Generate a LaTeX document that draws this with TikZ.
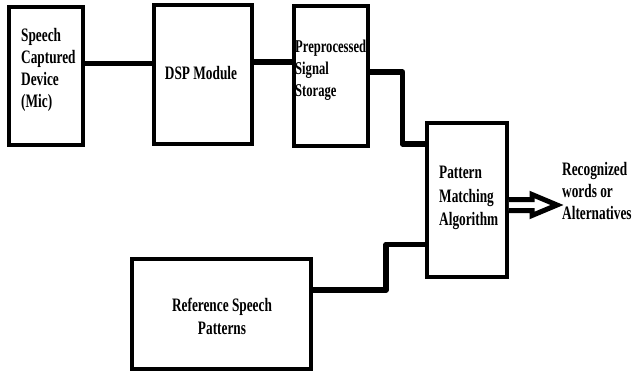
\documentclass[tikz,border=0pt]{standalone}
\usepackage{fontspec}
\setmainfont{Liberation Serif}[FakeStretch=0.7]
\usetikzlibrary{calc}
\begin{document}
\begin{tikzpicture}[x=1pt,y=-1pt,
  block/.style={draw=black,line width=3.5pt,rectangle,inner sep=0pt},
  label/.style={inner sep=0pt,font=\bfseries\fontsize{19}{22}\selectfont},
  conn/.style={draw=black,line width=5.5pt,line join=round}]
\useasboundingbox (0,0) rectangle (633,373);

% blocks
\node[block,minimum width=74pt,minimum height=138pt] (spc) at (46,76) {};
\node[block,minimum width=98pt,minimum height=139pt] (dsp) at (203,74.5) {};
\node[block,minimum width=74pt,minimum height=140pt] (pre) at (331,76) {};
\node[block,minimum width=80pt,minimum height=154pt] (pm) at (467,200) {};
\node[block,minimum width=179pt,minimum height=110pt] (ref) at (221.5,314) {};

% block texts
\node[label,align=left,anchor=west] (spct) at (21,70) {Speech\\Captured\\Device\\(Mic)};
\node[label,anchor=center] (dspt) at (201,73) {DSP Module};
\node[label,align=left,anchor=west,font=\bfseries\fontsize{18}{22}\selectfont] (pret) at (295,70) {Preprocessed\\Signal\\Storage};
\node[label,align=left,anchor=west,font=\bfseries\fontsize{19}{23.5}\selectfont] (pmt) at (439,198) {Pattern\\Matching\\Algorithm};
\node[label,align=center,anchor=center,font=\bfseries\fontsize{19}{23}\selectfont] (reft) at (222,316) {Reference Speech\\Patterns};
\node[label,align=left,anchor=west] (out) at (562,191) {Recognized\\words or\\Alternatives};

% bends of the connectors
\coordinate (k1) at (402.5,72);
\coordinate (k2) at (402.5,144);
\coordinate (k3) at (386,290);
\coordinate (k4) at (386,244.5);

% connectors
\draw[conn] (spc.east |- {(0,63.5)}) -- (dsp.west |- {(0,63.5)});
\draw[conn] (dsp.east |- {(0,62)}) -- (pre.west |- {(0,62)});
\draw[conn] (pre.east |- k1) -- (k1) -- (k2) -- (pm.west |- k2);
\draw[conn] (ref.east |- k3) -- (k3) -- (k4) -- (pm.west |- k4);

% hollow output arrow
\coordinate (a0) at (pm.east |- {(0,205)});
\coordinate (a1) at ($(out.west |- a0)+(-5,0)$);
\draw[line width=5pt,line join=miter,miter limit=4,fill=white]
  ($(a0)+(0,-5.5)$) -- ($(a1)+(-25,-5.5)$) -- ($(a1)+(-25,-10.5)$) -- (a1)
  -- ($(a1)+(-25,10.5)$) -- ($(a1)+(-25,5.5)$) -- ($(a0)+(0,5.5)$);
\end{tikzpicture}
\end{document}
